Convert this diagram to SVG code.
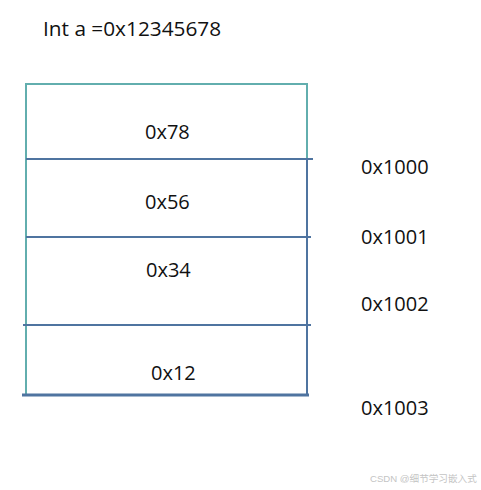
<svg xmlns="http://www.w3.org/2000/svg" width="481" height="490" viewBox="0 0 481 490">
<style>
.t{font-family:"Open Sans","Liberation Sans",sans-serif;font-size:20px;fill:#111}
.teal{stroke:#62aeae;stroke-width:2;fill:none}
.blue{stroke:#4f74a0;stroke-width:2;fill:none}
</style>
<rect width="481" height="490" fill="#fff"/>
<text class="t" x="43" y="36" style="font-size:20.8px">Int a =0x12345678</text>
<g id="memory">
<line class="teal" x1="25" y1="84" x2="308" y2="84"/>
<line class="teal" x1="26" y1="83" x2="26" y2="395"/>
<line class="teal" x1="307" y1="83" x2="307" y2="160"/>
<line class="blue" x1="307" y1="160" x2="307" y2="395"/>
</g>
<g id="connectors">
<line class="blue" x1="26" y1="159" x2="313" y2="159"/>
<line class="blue" x1="26" y1="237" x2="311" y2="237"/>
<line class="blue" x1="23" y1="325" x2="311" y2="325"/>
<line stroke="#4f74a0" stroke-width="3" x1="22" y1="395" x2="309" y2="395"/>
</g>
<g id="byte0"><text class="t" x="145" y="139">0x78</text></g>
<g id="byte1"><text class="t" x="145" y="209">0x56</text></g>
<g id="byte2"><text class="t" x="146" y="277">0x34</text></g>
<g id="byte3"><text class="t" x="151" y="380">0x12</text></g>
<g id="addr0"><text class="t" x="361" y="174">0x1000</text></g>
<g id="addr1"><text class="t" x="361" y="244">0x1001</text></g>
<g id="addr2"><text class="t" x="361" y="311">0x1002</text></g>
<g id="addr3"><text class="t" x="361" y="415">0x1003</text></g>
<text x="370" y="482" style="font-family:'Liberation Sans','Noto Sans CJK SC',sans-serif;font-size:9.6px;fill:#c4c4c4">CSDN @细节学习嵌入式</text>
</svg>
